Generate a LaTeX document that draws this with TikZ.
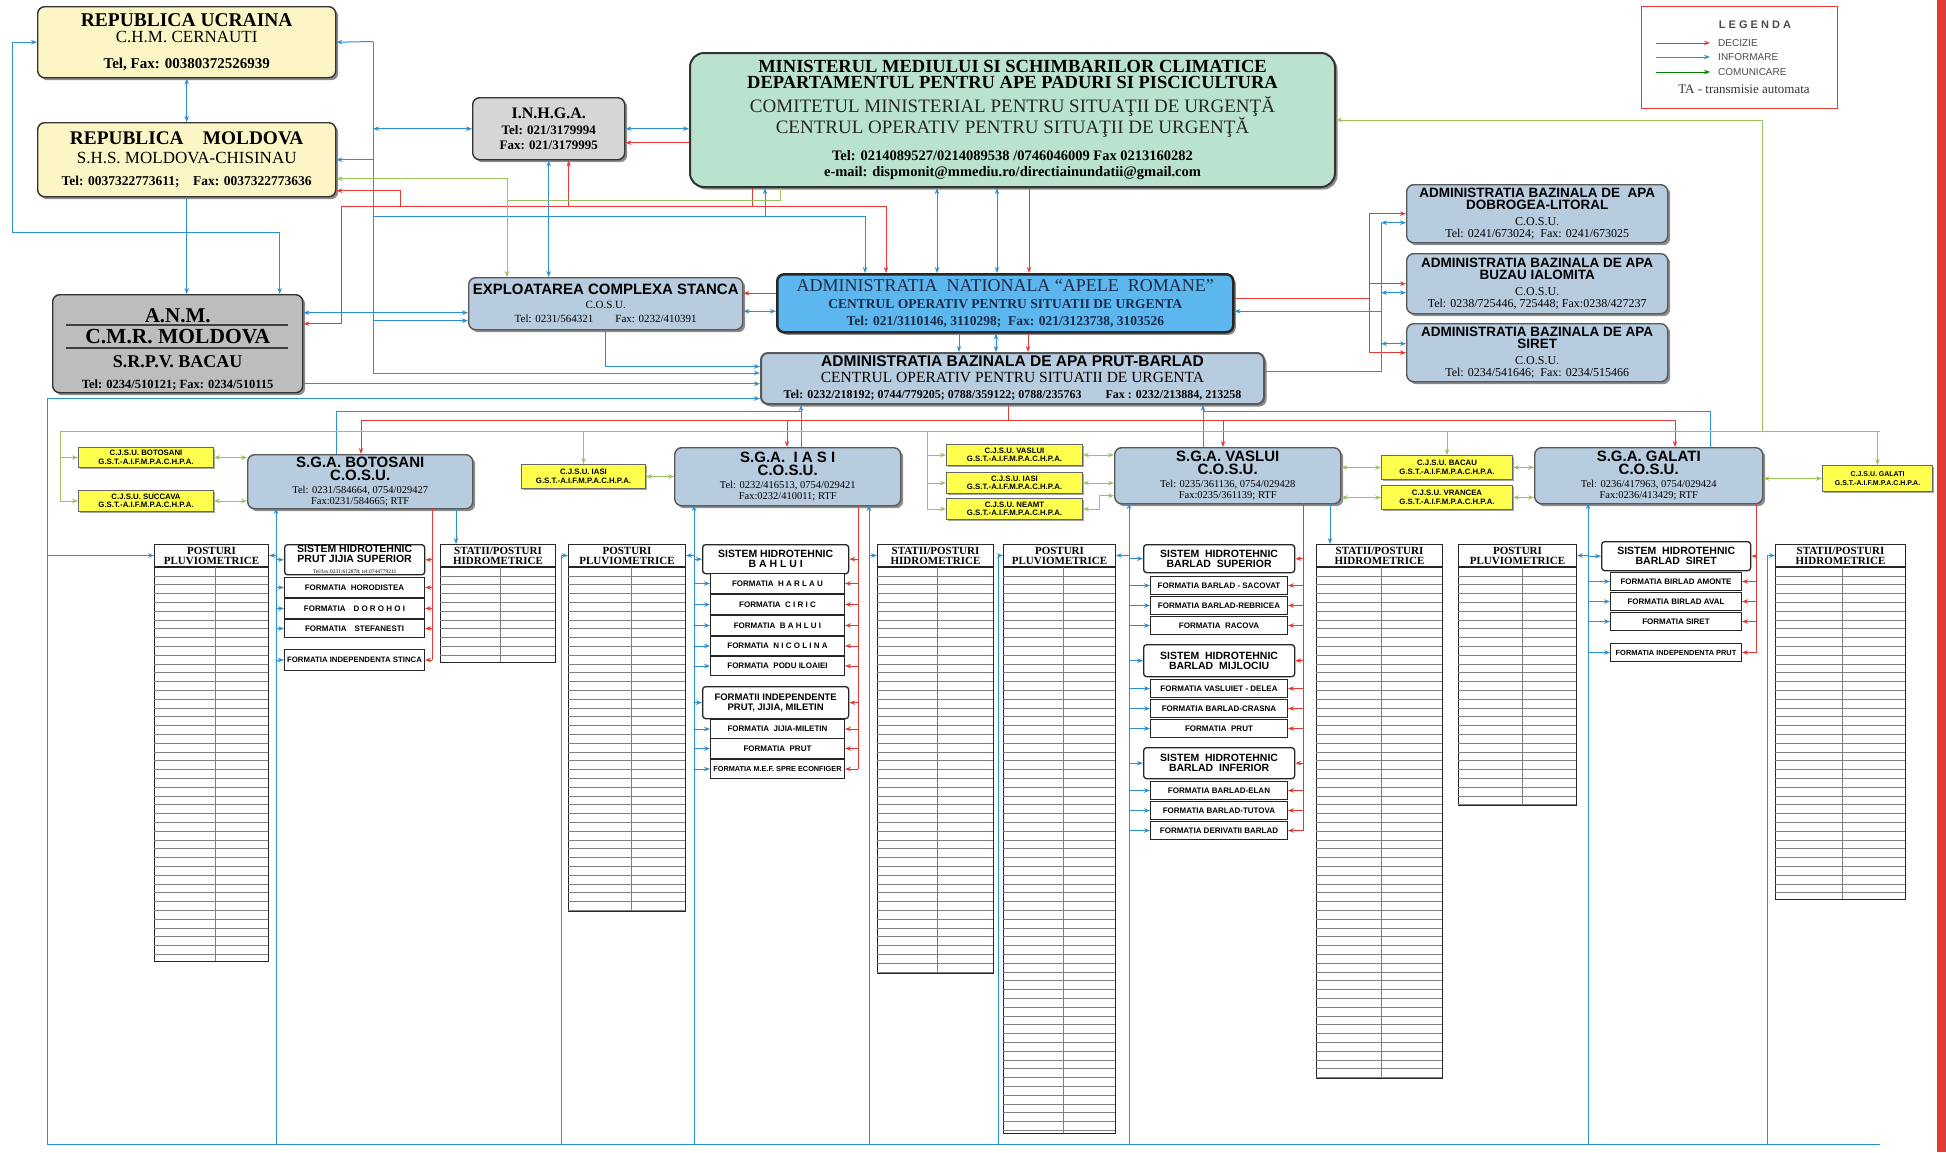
\documentclass[tikz,border=0pt]{standalone}
\usepackage{fontspec}
\setmainfont{Liberation Serif}
\setsansfont{Liberation Sans}
\usetikzlibrary{arrows.meta,shadows}
\definecolor{cream}{HTML}{FCF6C6}
\definecolor{mint}{HTML}{B9E3CF}
\definecolor{grayA}{HTML}{D6D6D6}
\definecolor{grayB}{HTML}{BDBDBD}
\definecolor{steel}{HTML}{B7CCDF}
\definecolor{anarblue}{HTML}{5BB7EE}
\definecolor{navy}{HTML}{1B2A4A}
\definecolor{cjyel}{HTML}{FFFF4D}
\definecolor{decred}{HTML}{E53935}
\definecolor{infblue}{HTML}{2B8FD0}
\definecolor{comgreen}{HTML}{9BC35B}
\newcommand\fsz[2]{\fontsize{#1}{#2}\selectfont}
\tikzset{
	sz/.style 2 args={minimum width=#1pt,minimum height=#2pt},
	box/.style={draw=black!80,line width=1.4pt,rounded corners=7pt,align=center,inner sep=1pt,anchor=north west,
		drop shadow={shadow xshift=2.5pt,shadow yshift=-2.5pt,fill=black,opacity=.45}},
	tara/.style={box,fill=cream},
	cosu/.style={box,fill=steel,draw=black!65},
	sga/.style={cosu,font=\sffamily\fsz{10}{12.5}},
	cjsu/.style={draw=black!60,line width=1pt,fill=cjyel,anchor=north west,align=center,inner sep=0pt,
		font=\sffamily\bfseries\fsz{7.8}{8.6},drop shadow={shadow xshift=1.5pt,shadow yshift=-1.5pt,fill=black,opacity=.35}},
	sist/.style={draw=black!85,line width=1.3pt,rounded corners=3pt,fill=white,anchor=north west,align=center,
		inner sep=0.5pt,font=\sffamily\bfseries\fsz{10.5}{10}},
	form/.style={draw=black!85,line width=1pt,fill=white,anchor=north west,align=center,inner sep=0pt,
		font=\sffamily\bfseries\fsz{8}{9}},
	tabhead/.style={draw=black!85,line width=1pt,fill=white,anchor=north west,align=center,inner sep=0pt,
		minimum height=22pt,font=\bfseries\fsz{11}{10}},
	tabline/.style={draw=black!85,line width=1pt},
	rowline/.style={draw=black!50,line width=.4pt},
	dec/.style={draw=decred,line width=1pt,->},
	inf/.style={draw=infblue,line width=1pt,->},
	com/.style={draw=comgreen,line width=1pt,->},
	inf2/.style={inf,<->},
	com2/.style={com,<->},
	legtxt/.style={anchor=west,inner sep=0pt,font=\sffamily\fsz{10}{11},text=black!70}
}
\begin{document}
\begin{tikzpicture}[x=1pt,y=-1pt,>={Stealth[length=6pt,width=4.5pt]}]
\useasboundingbox (0,0) rectangle (1946,1152);
\fill[white] (0,0) rectangle (1946,1152);
\fill[decred] (1937,0) rectangle (1946,1152);

% tari vecine
\node[tara,sz={298}{71},font=\fsz{10}{17}] (ucr) at (37,6) {\fsz{19.5}{17}\bfseries REPUBLICA UCRAINA\\ \fsz{17}{17}C.H.M. CERNAUTI\\[9pt] \fsz{15}{17}\bfseries Tel, Fax: 00380372526939};
\node[tara,sz={298}{74},font=\fsz{10}{19}] (mold) at (37,122) {\fsz{19.3}{19}\bfseries REPUBLICA\quad MOLDOVA\\ \fsz{17}{19}S.H.S. MOLDOVA-CHISINAU\\[3pt] \fsz{13.5}{19}\bfseries Tel: 0037322773611;\quad Fax: 0037322773636};
\node[box,fill=grayA,sz={152}{62},font=\fsz{10}{14.5}] (inhga) at (472,97) {\fsz{16}{14}\bfseries I.N.H.G.A.\\[2pt] \fsz{13}{14}\bfseries Tel: 021/3179994\\ \fsz{13}{14}\bfseries Fax: 021/3179995};

% minister
\node[box,fill=mint,sz={645}{134},line width=2pt,rounded corners=14pt,font=\fsz{10}{16.5}] (min) at (689,52) {\fsz{18.5}{17}\bfseries MINISTERUL MEDIULUI SI SCHIMBARILOR CLIMATICE\\ \fsz{18.5}{17}\bfseries DEPARTAMENTUL PENTRU APE PADURI SI PISCICULTURA\\[7pt] \fsz{19}{17}\color{black!85}COMITETUL MINISTERIAL PENTRU SITUAŢII DE URGENŢĂ\\ \fsz{19}{17}\color{black!85}CENTRUL OPERATIV PENTRU SITUAŢII DE URGENŢĂ\\[10pt] \fsz{14.5}{17}\bfseries Tel: 0214089527/0214089538 /0746046009 Fax 0213160282\\ \fsz{14.5}{17}\bfseries e-mail: dispmonit@mmediu.ro/directiainundatii@gmail.com};

% legenda
\node[draw=decred,line width=1.3pt,fill=white,anchor=north west,sz={196}{102}] (leg) at (1641,6) {};
\node[font=\sffamily\bfseries\fsz{11}{12},text=black!70] (legt) at (1755,25) {L E G E N D A};
\node[legtxt] (ldec) at (1718,43) {DECIZIE};
\node[legtxt] (linf) at (1718,57) {INFORMARE};
\node[legtxt] (lcom) at (1718,72) {COMUNICARE};
\node[inner sep=0pt,font=\fsz{13}{14},text=black!80] (lta) at (1744,89) {TA - transmisie automata};
\draw[dec] ([xshift=-62pt]ldec.west) -- ([xshift=-8pt]ldec.west);
\draw[inf] ([xshift=-62pt]linf.west) -- ([xshift=-8pt]linf.west);
\draw[draw=green!50!black,line width=1pt,->] ([xshift=-62pt]lcom.west) -- ([xshift=-8pt]lcom.west);

% nivel central
\node[box,fill=grayB,sz={250}{98},font=\fsz{10}{21}] (anm) at (52,294) {\fsz{21}{21}\bfseries\rule{0pt}{25pt}A.N.M.\\ \fsz{21.5}{21}\bfseries C.M.R. MOLDOVA\\[3pt] \fsz{18}{21}\bfseries S.R.P.V. BACAU\\ \fsz{12.5}{21}\bfseries Tel: 0234/510121; Fax: 0234/510115};
\draw[line width=1.2pt,black!75] (66,325) -- (288,325);
\draw[line width=1.2pt,black!75] (66,348) -- (288,348);
\node[cosu,sz={274}{52},font=\fsz{10}{14}] (stanca) at (468,277) {\sffamily\bfseries\fsz{15}{14}EXPLOATAREA COMPLEXA STANCA\\ \fsz{11}{13}C.O.S.U.\\ \fsz{11}{9}Tel: 0231/564321\qquad Fax: 0232/410391};
\node[box,fill=anarblue,draw=black!85,line width=2.5pt,sz={456}{58},text=navy,font=\fsz{10}{17}] (anar) at (776,273) {\fsz{18}{17}ADMINISTRATIA\ \ NATIONALA ``APELE\ \ ROMANE''\\ \fsz{13.5}{13}\bfseries CENTRUL OPERATIV PENTRU SITUATII DE URGENTA\\ \fsz{13.5}{12}\bfseries Tel: 021/3110146, 3110298;\ \ Fax: 021/3123738, 3103526};
\node[cosu,line width=2pt,sz={503}{51},font=\fsz{10}{16}] (abap) at (760,352) {\sffamily\bfseries\fsz{15.5}{15}ADMINISTRATIA BAZINALA DE APA PRUT-BARLAD\\ \fsz{15.5}{15}CENTRUL OPERATIV PENTRU SITUATII DE URGENTA\\ \bfseries\fsz{12}{11}Tel: 0232/218192; 0744/779205; 0788/359122; 0788/235763\qquad Fax : 0232/213884, 213258};
\node[cosu,sz={261}{58},font=\fsz{10}{12.5}] (aba1) at (1406,184) {\sffamily\bfseries\fsz{13.5}{13}ADMINISTRATIA BAZINALA DE\ \ APA\\ \sffamily\bfseries\fsz{13.5}{13}DOBROGEA-LITORAL\\[3pt] \fsz{12}{13}C.O.S.U.\\ \fsz{12}{10}Tel: 0241/673024;\ \ Fax: 0241/673025};
\node[cosu,sz={261}{60},font=\fsz{10}{12.5}] (aba2) at (1406,253) {\sffamily\bfseries\fsz{13.5}{13}ADMINISTRATIA BAZINALA DE APA\\ \sffamily\bfseries\fsz{13.5}{13}BUZAU IALOMITA\\[3pt] \fsz{12}{13}C.O.S.U.\\ \fsz{12}{10}Tel: 0238/725446, 725448; Fax:0238/427237};
\node[cosu,sz={261}{58},font=\fsz{10}{12.5}] (aba3) at (1406,323) {\sffamily\bfseries\fsz{13.5}{13}ADMINISTRATIA BAZINALA DE APA\\ \sffamily\bfseries\fsz{13.5}{13}SIRET\\[3pt] \fsz{12}{13}C.O.S.U.\\ \fsz{12}{10}Tel: 0234/541646;\ \ Fax: 0234/515466};

% SGA
\node[sga,sz={225}{54}] (bot) at (247,454) {\bfseries\fsz{15}{15}S.G.A. BOTOSANI\\ \bfseries\fsz{15}{15}C.O.S.U.\\[1pt] \rmfamily\fsz{10.5}{8.5}Tel: 0231/584664, 0754/029427\\[-1.5pt] \rmfamily\fsz{10.5}{8.5}Fax:0231/584665; RTF};
\node[sga,sz={226}{58}] (ias) at (674,447) {\bfseries\fsz{15}{15}S.G.A.\ \ I A S I\\ \bfseries\fsz{15}{15}C.O.S.U.\\[1pt] \rmfamily\fsz{10.5}{8.5}Tel: 0232/416513, 0754/029421\\[-1.5pt] \rmfamily\fsz{10.5}{8.5}Fax:0232/410011; RTF};
\node[sga,sz={226}{56}] (vas) at (1114,447) {\bfseries\fsz{15}{15}S.G.A.\ VASLUI\\ \bfseries\fsz{15}{15}C.O.S.U.\\[1pt] \rmfamily\fsz{10.5}{8.5}Tel: 0235/361136, 0754/029428\\[-1.5pt] \rmfamily\fsz{10.5}{8.5}Fax:0235/361139; RTF};
\node[sga,sz={228}{56}] (gal) at (1534,447) {\bfseries\fsz{15}{15}S.G.A.\ GALATI\\ \bfseries\fsz{15}{15}C.O.S.U.\\[1pt] \rmfamily\fsz{10.5}{8.5}Tel: 0236/417963, 0754/029424\\[-1.5pt] \rmfamily\fsz{10.5}{8.5}Fax:0236/413429; RTF};

% CJSU
\node[cjsu,sz={135}{20}] (cjbot) at (78,447) {C.J.S.U. BOTOSANI\\G.S.T.-A.I.F.M.P.A.C.H.P.A.};
\node[cjsu,sz={135}{21}] (cjsuc) at (78,490) {C.J.S.U. SUCCAVA\\G.S.T.-A.I.F.M.P.A.C.H.P.A.};
\node[cjsu,sz={124}{24}] (cjias) at (521,464) {C.J.S.U. IASI\\G.S.T.-A.I.F.M.P.A.C.H.P.A.};
\node[cjsu,sz={136}{21}] (cjvas) at (946,444) {C.J.S.U. VASLUI\\G.S.T.-A.I.F.M.P.A.C.H.P.A.};
\node[cjsu,sz={136}{21}] (cjia2) at (946,472) {C.J.S.U. IASI\\G.S.T.-A.I.F.M.P.A.C.H.P.A.};
\node[cjsu,sz={136}{21}] (cjnea) at (946,498) {C.J.S.U. NEAMT\\G.S.T.-A.I.F.M.P.A.C.H.P.A.};
\node[cjsu,sz={131}{24}] (cjbac) at (1381,455) {C.J.S.U. BACAU\\G.S.T.-A.I.F.M.P.A.C.H.P.A.};
\node[cjsu,sz={131}{24}] (cjvra) at (1381,485) {C.J.S.U. VRANCEA\\G.S.T.-A.I.F.M.P.A.C.H.P.A.};
\node[cjsu,sz={110}{26},font=\sffamily\bfseries\fsz{7}{8.6}] (cjgal) at (1822,465) {C.J.S.U. GALATI\\G.S.T.-A.I.F.M.P.A.C.H.P.A.};

% tabele posturi
\foreach \tn/\tx/\tw/\th in {pb/154/114/416,pi/568/117/366,pv/1003/112/588,pg/1458/118/260}{
	\node[tabhead,minimum width=\tw pt] (\tn) at (\tx,544) {POSTURI\\PLUVIOMETRICE};
	\draw[tabline] (\tn.south west) rectangle ++(\tw,{\th-22});
	\draw[rowline] ([xshift=0.54*\tw pt]\tn.south west) -- ++(0,{\th-22});
	\pgfmathtruncatemacro\nr{(\th-22)/8.8}
	\foreach \k in {1,...,\nr} \draw[rowline] ([yshift=-8.8*\k pt]\tn.south west) -- ++(\tw,0);
}
\foreach \tn/\tx/\tw/\th in {hb/440/115/117,hi/877/116/428,hv/1316/126/533,hg/1775/130/354}{
	\node[tabhead,minimum width=\tw pt] (\tn) at (\tx,544) {STATII/POSTURI\\HIDROMETRICE};
	\draw[tabline] (\tn.south west) rectangle ++(\tw,{\th-22});
	\draw[rowline] ([xshift=0.52*\tw pt]\tn.south west) -- ++(0,{\th-22});
	\pgfmathtruncatemacro\nr{(\th-22)/8.8}
	\foreach \k in {1,...,\nr} \draw[rowline] ([yshift=-8.8*\k pt]\tn.south west) -- ++(\tw,0);
}

% sisteme si formatii
\node[sist,sz={140}{29}] (sbot) at (284,544) {SISTEM HIDROTEHNIC\\PRUT JIJIA SUPERIOR\\[1pt] {\rmfamily\mdseries\fsz{5.5}{6}Tel/fax:0231/612878; tel:0744779211}};
\node[form,sz={140}{20}] (fhor) at (284,577) {FORMATIA\ \ HORODISTEA};
\node[form,sz={140}{20}] (fdor) at (284,598) {FORMATIA\quad D O R O H O I};
\node[form,sz={140}{18}] (fste) at (284,619) {FORMATIA\quad STEFANESTI};
\node[form,sz={140}{21},font=\sffamily\bfseries\fsz{7.8}{8}] (find) at (284,649) {FORMATIA INDEPENDENTA STINCA};

\node[sist,sz={146}{29}] (sbah) at (702,544) {SISTEM HIDROTEHNIC\\B A H L U I};
\node[form,sz={134}{20}] (fhar) at (710,573) {FORMATIA\ \ H A R L A U};
\node[form,sz={134}{20}] (fcir) at (710,594) {FORMATIA\ \ C I R I C};
\node[form,sz={134}{20}] (fbah) at (710,615) {FORMATIA\ \ B A H L U I};
\node[form,sz={134}{19}] (fnic) at (710,636) {FORMATIA\ \ N I C O L I N A};
\node[form,sz={134}{19}] (fpod) at (710,656) {FORMATIA\ \ PODU ILOAIEI};
\node[sist,sz={146}{32},font=\sffamily\bfseries\fsz{9.5}{10}] (sind) at (702,686) {FORMATII INDEPENDENTE\\PRUT, JIJIA, MILETIN};
\node[form,sz={134}{19}] (fjij) at (710,719) {FORMATIA\ \ JIJIA-MILETIN};
\node[form,sz={134}{20}] (fpru) at (710,738) {FORMATIA\ \ PRUT};
\node[form,sz={134}{19},font=\sffamily\bfseries\fsz{7.3}{8}] (fmef) at (710,759) {FORMATIA M.E.F. SPRE ECONFIGER};

\node[sist,sz={151}{28}] (sbs) at (1143,544) {SISTEM\ \ HIDROTEHNIC\\BARLAD\ \ SUPERIOR};
\node[form,sz={137}{18}] (fsac) at (1150,576) {FORMATIA BARLAD - SACOVAT};
\node[form,sz={137}{18}] (frebr) at (1150,596) {FORMATIA BARLAD-REBRICEA};
\node[form,sz={137}{18}] (frac) at (1150,616) {FORMATIA\ \ RACOVA};
\node[sist,sz={151}{32}] (sbm) at (1143,644) {SISTEM\ \ HIDROTEHNIC\\BARLAD\ \ MIJLOCIU};
\node[form,sz={137}{18}] (fvas) at (1150,679) {FORMATIA VASLUIET - DELEA};
\node[form,sz={137}{18}] (fcra) at (1150,699) {FORMATIA BARLAD-CRASNA};
\node[form,sz={137}{18}] (fpru2) at (1150,719) {FORMATIA\ \ PRUT};
\node[sist,sz={151}{31}] (sbi) at (1143,747) {SISTEM\ \ HIDROTEHNIC\\BARLAD\ \ INFERIOR};
\node[form,sz={137}{18}] (fela) at (1150,781) {FORMATIA BARLAD-ELAN};
\node[form,sz={137}{18}] (ftut) at (1150,801) {FORMATIA BARLAD-TUTOVA};
\node[form,sz={137}{18}] (fder) at (1150,821) {FORMATIA DERIVATII BARLAD};

\node[sist,sz={149}{29}] (sbsi) at (1601,541) {SISTEM\ \ HIDROTEHNIC\\BARLAD\ \ SIRET};
\node[form,sz={131}{18}] (fams) at (1610,572) {FORMATIA BIRLAD AMONTE};
\node[form,sz={131}{18}] (faval) at (1610,592) {FORMATIA BIRLAD AVAL};
\node[form,sz={131}{18}] (fsir) at (1610,612) {FORMATIA SIRET};
\node[form,sz={131}{18},font=\sffamily\bfseries\fsz{7.4}{8}] (findp) at (1610,643) {FORMATIA INDEPENDENTA PRUT};

% puncte de ruta
\coordinate (bus) at (47,1144);
\coordinate (busr) at (1880,1144);
\coordinate (lft) at (12,232);
\coordinate (rv) at (373,41.5);
\coordinate (rvb) at (373,373);
\coordinate (mr) at ([xshift=63pt]min.south west);
\coordinate (mb) at ([xshift=76pt]min.south west);
\coordinate (mg) at ([xshift=91pt]min.south west);
\coordinate (mr2) at (341,206);
\coordinate (mr3) at (400,206);
\coordinate (mb2) at (765,216);
\coordinate (g1) at (507,200);
\coordinate (gbus) at (1762,431);
\coordinate (yb) at (0,411);
\coordinate (yr) at (0,420);
\coordinate (yg) at (0,431);
\coordinate (gl) at (60,431);
\coordinate (gr) at (1880,431);
\coordinate (gv2) at (927,431);
\coordinate (rrx) at (1369,297);
\coordinate (bbx) at (1381,310);

% legaturi sus
\draw[inf2] (ucr.south) -- (mold.north);
\draw[inf] (mold.south) -- (mold.south |- anm.north);
\coordinate (anmn2) at ([xshift=102pt]anm.north);
\draw[inf2] (ucr.west) -| (lft) -| (anmn2);
\draw[inf] (rv) -- (ucr.east);
\draw[inf,-] (rv) -- (rvb);
\draw[inf] (rv |- mold.east) -- (mold.east);
\draw[inf2] (inhga.west -| rv) -- (inhga.west);
\draw[inf2] (inhga.east) -- (inhga.east -| min.west);
\coordinate (inr) at ([yshift=-14pt]inhga.east);
\draw[dec] (inr -| min.west) -- (inr);
\coordinate (anmb) at ([yshift=31pt]anm.east);
\draw[inf2] (anmb) -- (anmb -| stanca.west);
\coordinate (stw2) at ([yshift=-17pt]stanca.west);
\draw[inf] (rv |- stw2) -- (stw2);
\draw[inf] (rvb) -- (rvb -| abap.west);
\coordinate (anmr) at ([yshift=20pt]anm.east);
\draw[dec] (mr) |- (mr2) |- (anmr);
\coordinate (inhr) at ([xshift=20pt]inhga.south);
\draw[dec] (mr2 -| inhr) -- (inhr);
\coordinate (moldr) at ([yshift=-31pt]mold.east);
\draw[dec] (mr3) |- (moldr);
\draw[inf] (mb2 -| rv) -| (mb);
\draw[inf2] (inhga.south) -- (inhga.south |- stanca.north);
\draw[com] (mg) |- (g1) -- (g1 |- stanca.north);
\coordinate (moldg) at ([yshift=-19pt]mold.east);
\draw[com] (g1) |- (moldg);
\draw[com] (gbus) |- (min.east);

% minister - ANAR - ABA
\coordinate (anar1) at ([xshift=89pt]anar.north west);
\coordinate (anar2) at ([xshift=110pt]anar.north west);
\coordinate (anar3) at ([xshift=161pt]anar.north west);
\coordinate (anar4) at ([xshift=221pt]anar.north west);
\coordinate (anar5) at ([xshift=253pt]anar.north west);
\draw[inf] (mb2) -| (anar1);
\draw[dec] (mr |- mr2) -| (anar2);
\draw[inf2] (anar3 |- min.south) -- (anar3);
\draw[inf2] (anar4 |- min.south) -- (anar4);
\draw[dec] (anar5 |- min.south) -- (anar5);
\coordinate (ab1) at ([xshift=183pt]anar.south west);
\coordinate (ab2) at ([xshift=220pt]anar.south west);
\coordinate (ab3) at ([xshift=252pt]anar.south west);
\draw[inf] (ab1) -- (ab1 |- abap.north);
\draw[inf2] (ab2) -- (ab2 |- abap.north);
\draw[dec] (ab3) -- (ab3 |- abap.north);
\coordinate (anw1) at ([yshift=10pt]anar.west);
\coordinate (anw2) at ([yshift=-8pt]anar.west);
\draw[dec] (anw1) -- (anw1 -| stanca.east);
\draw[inf2] (anw2 -| stanca.east) -- (anw2);
\coordinate (abw1) at ([yshift=12pt]abap.west);
\draw[inf] (stanca.south) |- (abw1);
\coordinate (anmc) at ([yshift=-40pt]anm.east);
\draw[inf] (anmc) -- (anmc -| abap.west);
\coordinate (abw3) at ([yshift=-20pt]abap.west);
\draw[inf] (bus) |- (abw3);

% ANAR - ABA vecine
\coordinate (ane1) at ([yshift=5pt]anar.east);
\coordinate (ane2) at ([yshift=-8pt]anar.east);
\draw[dec,-] (ane1) -- (ane1 -| rrx);
\draw[inf] (ane2 -| bbx) -- (ane2);
\draw[dec,-] (rrx |- aba1.west) -- (rrx |- aba3.west);
\foreach \n in {aba1,aba2,aba3} \draw[dec] (rrx |- \n.west) -- (\n.west);
\coordinate (a1b) at ([yshift=-9pt]aba1.west);
\coordinate (a2b) at ([yshift=-9pt]aba2.west);
\coordinate (a3b) at ([yshift=9pt]aba3.west);
\coordinate (abe) at ([yshift=7pt]abap.east);
\draw[inf,-] (bbx |- a1b) -- (bbx |- abe) -- (abe);
\foreach \n in {a1b,a2b,a3b} \draw[inf2] (bbx |- \n) -- (\n);

% ABA - SGA
\coordinate (botb) at ([xshift=89pt]bot.north west);
\coordinate (botr) at ([xshift=114pt]bot.north west);
\coordinate (iasr) at ([xshift=113pt]ias.north west);
\coordinate (iasb) at ([xshift=127pt]ias.north west);
\coordinate (vasb) at ([xshift=89pt]vas.north west);
\coordinate (vasr) at ([xshift=109pt]vas.north west);
\coordinate (galr) at ([xshift=141pt]gal.north west);
\coordinate (galb) at ([xshift=176pt]gal.north west);
\draw[inf] (iasb) -- (iasb |- abap.south);
\draw[inf] (vasb) -- (vasb |- abap.south);
\draw[inf,-] (botb) |- (iasb |- yb);
\draw[inf,-] (galb) |- (vasb |- yb);
\coordinate (abr) at ([xshift=-4pt]abap.south);
\draw[dec,-] (abr) -- (abr |- yr);
\draw[dec,-] (botr |- yr) -- (galr |- yr);
\foreach \c in {botr,iasr,vasr,galr} \draw[dec] (\c |- yr) -- (\c);

% comunicare CJSU
\draw[com,-] (gl) -- (gr);
\draw[com] (gl) |- (cjbot.west);
\draw[com] (gl) |- (cjsuc.west);
\draw[com] (cjias.north |- yg) -- (cjias.north);
\foreach \n in {cjvas,cjia2,cjnea} \draw[com] (gv2) |- (\n.west);
\draw[com] (cjbac.north |- yg) -- (cjbac.north);
\draw[com] (cjgal.north |- yg) -- (cjgal.north);
\draw[com2] (cjbot.east) -- (cjbot.east -| bot.west);
\draw[com2] (cjsuc.east) -- (cjsuc.east -| bot.west);
\draw[com2] (cjias.east) -- (cjias.east -| ias.west);
\draw[com2] (cjvas.east) -- (cjvas.east -| vas.west);
\draw[com2] (cjia2.east) -- (cjia2.east -| vas.west);
\coordinate (nv) at ([xshift=16pt]cjnea.east);
\coordinate (vw3) at ([yshift=-20pt]vas.west);
\draw[com2] (cjnea.east) -| (nv |- vw3) -- (vw3);
\draw[com2] (vas.east |- cjbac.west) -- (cjbac.west);
\draw[com2] (vas.east |- cjvra.west) -- (cjvra.west);
\draw[com2] (cjbac.east) -- (cjbac.east -| gal.west);
\draw[com2] (cjvra.east) -- (cjvra.east -| gal.west);
\draw[com2] (gal.east |- cjgal.west) -- (cjgal.west);

% nivel SGA - formatii
\draw[inf,-] (bus) -- (busr);
\coordinate (bbot) at (276,508);
\coordinate (rbot) at (432,508);
\coordinate (hbot) at (456,508);
\draw[inf] (bbot |- bus) -- (bbot);
\draw[dec,-] (rbot) -- (rbot |- find.east);
\foreach \n in {sbot,fhor,fdor,fste,find} {
	\draw[inf] (bbot |- \n.west) -- (\n.west);
	\draw[dec] (rbot |- \n.east) -- (\n.east);
}
\draw[inf] (bbot |- pb.east) -- (pb.east);
\draw[inf] (hbot) -- (hbot |- hb.north);
\draw[inf] (bus |- pb.west) -- (pb.west);

\coordinate (bias) at (694,505);
\coordinate (rias) at (858,505);
\coordinate (hias) at (869,505);
\coordinate (pil) at (561,1144);
\draw[inf] (bias |- bus) -- (bias);
\draw[dec,-] (rias) -- (rias |- fmef.east);
\foreach \n in {sbah,fhar,fcir,fbah,fnic,fpod,sind,fjij,fpru,fmef} {
	\draw[inf] (bias |- \n.west) -- (\n.west);
	\draw[dec] (rias |- \n.east) -- (\n.east);
}
\draw[inf] (bias |- pi.east) -- (pi.east);
\draw[inf] (hias |- bus) -- (hias);
\draw[inf] (hias |- hi.west) -- (hi.west);
\draw[inf] (pil) |- (pi.west);

\coordinate (bvas) at (1129,503);
\coordinate (rvas) at (1303,503);
\coordinate (hvas) at (1330,503);
\coordinate (pvl) at (998,1144);
\draw[inf] (bvas |- bus) -- (bvas);
\draw[dec,-] (rvas) -- (rvas |- fder.east);
\foreach \n in {sbs,fsac,frebr,frac,sbm,fvas,fcra,fpru2,sbi,fela,ftut,fder} {
	\draw[inf] (bvas |- \n.west) -- (\n.west);
	\draw[dec] (rvas |- \n.east) -- (\n.east);
}
\draw[inf] (bvas |- pv.east) -- (pv.east);
\draw[inf] (hvas) -- (hvas |- hv.north);
\draw[inf] (pvl) |- (pv.west);

\coordinate (bgal) at (1588,503);
\coordinate (rgal) at (1756,503);
\coordinate (hgal) at (1767,1144);
\draw[inf] (bgal |- bus) -- (bgal);
\draw[dec,-] (rgal) -- (rgal |- findp.east);
\foreach \n in {sbsi,fams,faval,fsir,findp} {
	\draw[inf] (bgal |- \n.west) -- (\n.west);
	\draw[dec] (rgal |- \n.east) -- (\n.east);
}
\draw[inf] (bgal |- pg.east) -- (pg.east);
\draw[inf] (hgal) |- (hg.west);
\end{tikzpicture}
\end{document}
